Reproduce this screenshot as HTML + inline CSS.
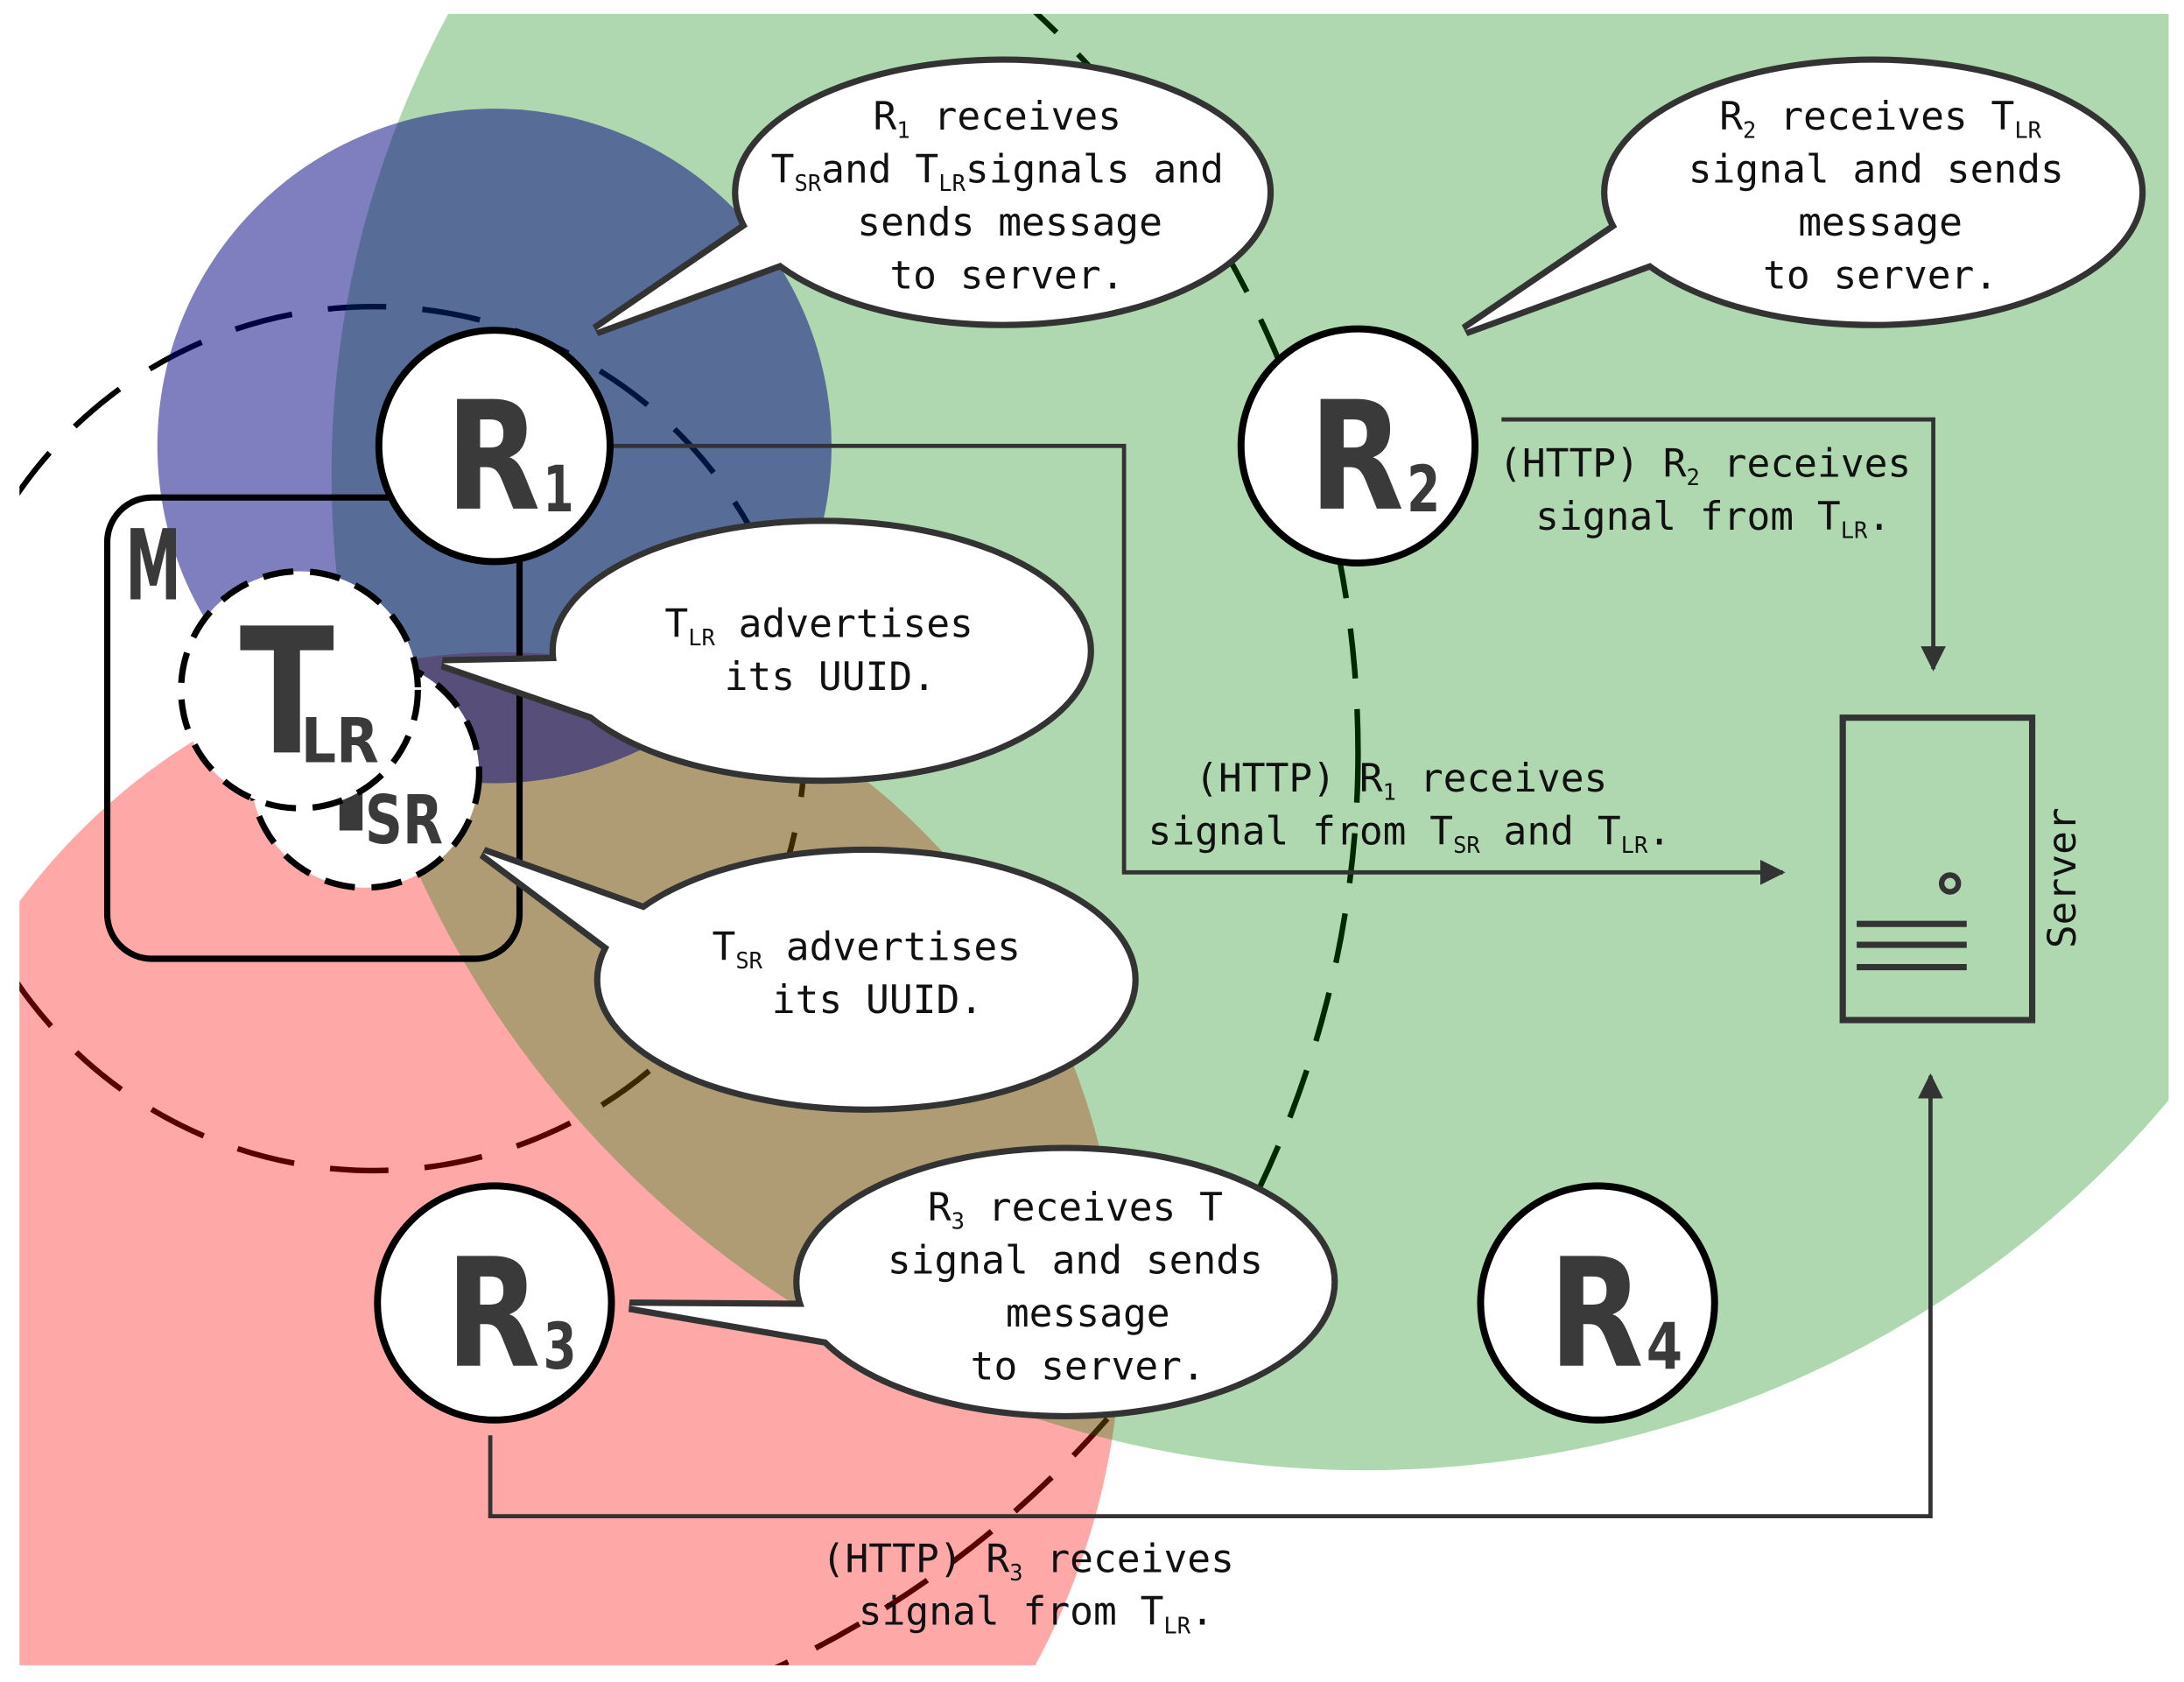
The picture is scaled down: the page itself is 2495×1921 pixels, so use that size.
<!DOCTYPE html>
<html><head><meta charset="utf-8"><style>
html,body{margin:0;padding:0;background:#fff;overflow:hidden;width:2495px;height:1921px}
svg{display:block}
text{font-family:"DejaVu Sans Mono","Liberation Mono",monospace;fill:#111;white-space:pre}
.big{font-family:"DejaVu Sans","Liberation Sans",sans-serif;font-weight:bold;fill:#3a3a3a}
</style></head><body>
<svg width="2495" height="1921" viewBox="0 0 1568 1207" preserveAspectRatio="none" xmlns="http://www.w3.org/2000/svg">
<defs>
<clipPath id="c"><rect x="14" y="10" width="1543" height="1185"/></clipPath>
<marker id="ar" viewBox="0 0 10 10" refX="9" refY="5" markerWidth="6" markerHeight="6" orient="auto" markerUnits="strokeWidth"><path d="M0,0 L10,5 L0,10 z" fill="#333"/></marker>
</defs>
<rect width="1568" height="1207" fill="#fff"/>
<g clip-path="url(#c)">
<circle cx="268" cy="530" r="310" fill="none" stroke="#000" stroke-width="4" stroke-dasharray="42 26"/>
<circle cx="250" cy="540" r="725" fill="none" stroke="#000" stroke-width="4" stroke-dasharray="36 22"/>
<ellipse cx="360" cy="950" rx="445" ry="482" fill="rgb(255,0,0)" fill-opacity="0.34"/>
<ellipse cx="980" cy="340" rx="742" ry="715" fill="rgb(0,128,0)" fill-opacity="0.31"/>
<circle cx="355" cy="320" r="242" fill="rgb(0,0,128)" fill-opacity="0.5"/>
</g>

<!-- connectors -->
<g fill="none" stroke="#333" stroke-width="3">
<polyline points="440,320 807,320 807,626 1280,626" marker-end="url(#ar)"/>
<polyline points="1078,301 1388,301 1388,480" marker-end="url(#ar)"/>
<polyline points="352,1030 352,1088 1386,1088 1386,772" marker-end="url(#ar)"/>
</g>

<!-- M box -->
<rect x="77" y="357" width="296" height="331" rx="32" fill="none" stroke="#000" stroke-width="4.5"/>
<text class="big" x="90" y="430" font-size="70" textLength="40" lengthAdjust="spacingAndGlyphs">M</text>

<!-- T_SR / T_LR -->
<circle cx="262" cy="555" r="82" fill="#fff" stroke="#000" stroke-width="4.5" stroke-dasharray="22 12"/>
<text class="big" x="222" y="596" font-size="95" textLength="60" lengthAdjust="spacingAndGlyphs">T</text>
<text class="big" x="262" y="605" font-size="48" textLength="56" lengthAdjust="spacingAndGlyphs">SR</text>
<circle cx="215" cy="495" r="85" fill="#fff" stroke="#000" stroke-width="4.5" stroke-dasharray="22 12"/>
<text class="big" x="172" y="540" font-size="125" textLength="68" lengthAdjust="spacingAndGlyphs">T</text>
<text class="big" x="216" y="547" font-size="44" textLength="56" lengthAdjust="spacingAndGlyphs">LR</text>

<!-- routers -->
<g fill="#fff" stroke="#000" stroke-width="5">
<circle cx="355" cy="320" r="83"/>
<circle cx="975" cy="320" r="84"/>
<circle cx="355" cy="935" r="84"/>
<circle cx="1147" cy="935" r="84"/>
</g>
<text class="big" x="320" y="365" font-size="108" textLength="68" lengthAdjust="spacingAndGlyphs">R</text><text class="big" x="390" y="367" font-size="46" textLength="22" lengthAdjust="spacingAndGlyphs">1</text>
<text class="big" x="940" y="365" font-size="108" textLength="68" lengthAdjust="spacingAndGlyphs">R</text><text class="big" x="1010" y="367" font-size="46" textLength="24" lengthAdjust="spacingAndGlyphs">2</text>
<text class="big" x="320" y="980" font-size="108" textLength="68" lengthAdjust="spacingAndGlyphs">R</text><text class="big" x="390" y="982" font-size="46" textLength="24" lengthAdjust="spacingAndGlyphs">3</text>
<text class="big" x="1112" y="980" font-size="108" textLength="68" lengthAdjust="spacingAndGlyphs">R</text><text class="big" x="1182" y="982" font-size="46" textLength="26" lengthAdjust="spacingAndGlyphs">4</text>

<!-- bubbles: stroke layer -->
<g stroke="#333" stroke-width="5" fill="#fff" stroke-linejoin="miter">
<ellipse cx="720" cy="138" rx="192" ry="95"/>
<ellipse cx="1345" cy="138" rx="193" ry="95"/>
<ellipse cx="590" cy="467" rx="193" ry="93"/>
<ellipse cx="622" cy="703" rx="193" ry="93"/>
<ellipse cx="765" cy="920" rx="193" ry="96"/>
</g>
<g stroke="#333" stroke-width="9" fill="#fff" stroke-linejoin="miter">
<polygon points="555,150 428,237 570,185"/>
<polygon points="1180,150 1052,237 1195,185"/>
<polygon points="420,474 318,476 440,518"/>
<polygon points="470,656 347,612 458,695"/>
<polygon points="600,938 452,937 615,965"/>
</g>
<g fill="#fff">
<ellipse cx="720" cy="138" rx="190" ry="93"/>
<polygon points="555,150 428,237 570,185"/>
<ellipse cx="1345" cy="138" rx="191" ry="93"/>
<polygon points="1180,150 1052,237 1195,185"/>
<ellipse cx="590" cy="467" rx="191" ry="91"/>
<polygon points="420,474 318,476 440,518"/>
<ellipse cx="622" cy="703" rx="191" ry="91"/>
<polygon points="470,656 347,612 458,695"/>
<ellipse cx="765" cy="920" rx="191" ry="94"/>
<polygon points="600,938 452,937 615,965"/>
</g>

<!-- server -->
<rect x="1323" y="515" width="136" height="217" fill="none" stroke="#333" stroke-width="4.5"/>
<circle cx="1400" cy="634" r="6" fill="none" stroke="#333" stroke-width="4"/>
<g stroke="#333" stroke-width="4.5"><line x1="1333" y1="663" x2="1412" y2="663"/><line x1="1333" y1="678" x2="1412" y2="678"/><line x1="1333" y1="694" x2="1412" y2="694"/></g>
<text x="0" y="0" font-size="28" text-anchor="middle" transform="translate(1490 630) rotate(-90)">Server</text>

<!-- bubble texts -->
<g font-size="28" text-anchor="middle">
<text x="716" y="93">R<tspan font-size="16" dy="6">1</tspan><tspan dy="-6"> receives</tspan></text>
<text x="716" y="131">T<tspan font-size="16" dy="6">SR</tspan><tspan dy="-6">and T</tspan><tspan font-size="16" dy="6">LR</tspan><tspan dy="-6">signals and</tspan></text>
<text x="725" y="169">sends message</text>
<text x="723" y="207">to server.</text>

<text x="1350" y="93">R<tspan font-size="16" dy="6">2</tspan><tspan dy="-6"> receives T</tspan><tspan font-size="16" dy="6">LR</tspan></text>
<text x="1347" y="131">signal and sends</text>
<text x="1350" y="169">message</text>
<text x="1350" y="207">to server.</text>

<text x="588" y="457">T<tspan font-size="16" dy="6">LR</tspan><tspan dy="-6"> advertises</tspan></text>
<text x="596" y="495">its UUID.</text>

<text x="622" y="689">T<tspan font-size="16" dy="6">SR</tspan><tspan dy="-6"> advertises</tspan></text>
<text x="630" y="727">its UUID.</text>

<text x="772" y="876">R<tspan font-size="16" dy="6">3</tspan><tspan dy="-6"> receives T</tspan></text>
<text x="772" y="914">signal and sends</text>
<text x="781" y="952">message</text>
<text x="781" y="990">to server.</text>

<text x="1224" y="342">(HTTP) R<tspan font-size="16" dy="6">2</tspan><tspan dy="-6"> receives</tspan></text>
<text x="1230" y="380">signal from T<tspan font-size="16" dy="6">LR</tspan><tspan dy="-6">.</tspan></text>

<text x="1006" y="568">(HTTP) R<tspan font-size="16" dy="6">1</tspan><tspan dy="-6"> receives</tspan></text>
<text x="1012" y="606">signal from T<tspan font-size="16" dy="6">SR</tspan><tspan dy="-6"> and T</tspan><tspan font-size="16" dy="6">LR</tspan><tspan dy="-6">.</tspan></text>

<text x="738" y="1128">(HTTP) R<tspan font-size="16" dy="6">3</tspan><tspan dy="-6"> receives</tspan></text>
<text x="744" y="1166">signal from T<tspan font-size="16" dy="6">LR</tspan><tspan dy="-6">.</tspan></text>
</g>
</svg>
</body></html>
